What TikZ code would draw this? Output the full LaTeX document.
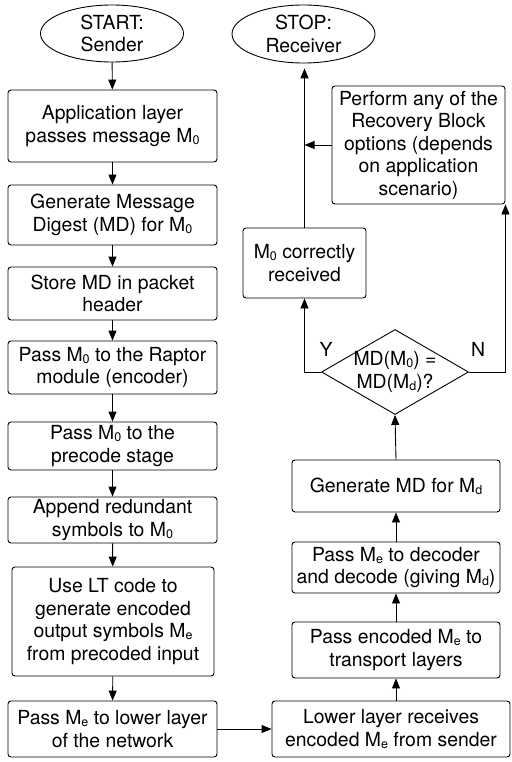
\documentclass[tikz,border=0pt]{standalone}
\usepackage{fontspec}
\setmainfont{TeX Gyre Heros}
\usetikzlibrary{arrows.meta,shapes.geometric}
% small index digit/letter set just under the baseline, as in M0, Me, Md
\newcommand\sbs[1]{\raisebox{-0.2ex}{\fontsize{12.5pt}{12.5pt}\selectfont #1}}
\begin{document}
\begin{tikzpicture}[x=1pt,y=-1pt,
  every node/.style={font=\fontsize{19.4pt}{22.5pt}\selectfont},
  procbox/.style={draw, rounded corners=3pt, align=center, inner sep=0pt, line width=0.9pt},
  terminal/.style={draw, ellipse, align=center, inner sep=0pt, line width=0.9pt},
  flow/.style={-{Triangle[length=10pt,width=8pt]}, line width=0.9pt}]
\useasboundingbox (0,0) rectangle (511,762);

% sender column
\node[terminal, minimum width=143pt, minimum height=57pt] (start) at (112,33.5) {START:\\Sender};
\node[procbox, minimum width=209pt, minimum height=72pt] (s1) at (112.5,126) {Application layer\\passes message M\sbs{0}};
\node[procbox, minimum width=209pt, minimum height=60pt] (s2) at (112.5,215) {Generate Message\\Digest (MD) for M\sbs{0}};
\node[procbox, minimum width=209pt, minimum height=53pt] (s3) at (112.5,293.5) {Store MD in packet\\header};
\node[procbox, minimum width=209pt, minimum height=53pt] (s4) at (112.5,367.5) {Pass M\sbs{0} to the Raptor\\module (encoder)};
\node[procbox, minimum width=209pt, minimum height=48pt] (s5) at (112.5,446) {Pass M\sbs{0} to the\\precode stage};
\node[procbox, minimum width=209pt, minimum height=46pt] (s6) at (112.5,520) {Append redundant\\symbols to M\sbs{0}};
\node[procbox, minimum width=202pt, minimum height=109pt] (s7) at (113,621.5) {Use LT code to\\generate encoded\\output symbols M\sbs{e}\\from precoded input};
\node[procbox, minimum width=209pt, minimum height=56pt] (s8) at (112.5,729) {Pass M\sbs{e} to lower layer\\of the network};

% receiver column
\node[procbox, minimum width=238pt, minimum height=56pt] (r1) at (391,729) {Lower layer receives\\encoded M\sbs{e} from sender};
\node[procbox, minimum width=208pt, minimum height=56pt] (r2) at (396,650) {Pass encoded M\sbs{e} to\\transport layers};
\node[procbox, minimum width=208pt, minimum height=51pt] (r3) at (396,567.5) {Pass M\sbs{e} to decoder\\and decode (giving M\sbs{d})};
\node[procbox, minimum width=208pt, minimum height=52pt] (r4) at (396,486) {Generate MD for M\sbs{d}};
\node[draw, diamond, minimum width=147pt, minimum height=85pt, inner sep=0pt, line width=0.9pt] (dia) at (395,372) {};
\node[align=center] (diatext) at (dia.center) {MD(M\sbs{0}) =\\MD(M\sbs{d})?};
\node[procbox, minimum width=123pt, minimum height=70pt] (ok) at (304.5,263) {M\sbs{0} correctly\\received};
\node[procbox, minimum width=173pt, minimum height=118pt] (rec) at (418.5,145) {Perform any of the\\Recovery Block\\options (depends\\on application\\scenario)};
\node[terminal, minimum width=143pt, minimum height=58pt] (stop) at (303.5,34) {STOP:\\Receiver};

\node (ylab) at (326,349) {Y};
\node (nlab) at (478,349) {N};

% connectors
\draw[flow] (start) -- (s1);
\draw[flow] (s1) -- (s2);
\draw[flow] (s2) -- (s3);
\draw[flow] (s3) -- (s4);
\draw[flow] (s4) -- (s5);
\draw[flow] (s5) -- (s6);
\draw[flow] (s6) -- (s7);
\draw[flow] (s7) -- (s8);
\draw[flow] (s8.east) -- (r1.west);
\draw[flow] (r1.north -| r2.north) -- (r2.south);
\draw[flow] (r2) -- (r3);
\draw[flow] (r3) -- (r4);
\draw[flow] (r4.north) -- (dia.south);
\draw[flow] (dia.west) -| (ok.south);
\draw[flow] (dia.east) -| (rec.south east);
\draw[flow, shorten >=5pt] (ok.north) -- (ok.north |- stop.south);
\draw[flow] (rec.west) -- (rec.west -| ok.north);
\end{tikzpicture}
\end{document}
